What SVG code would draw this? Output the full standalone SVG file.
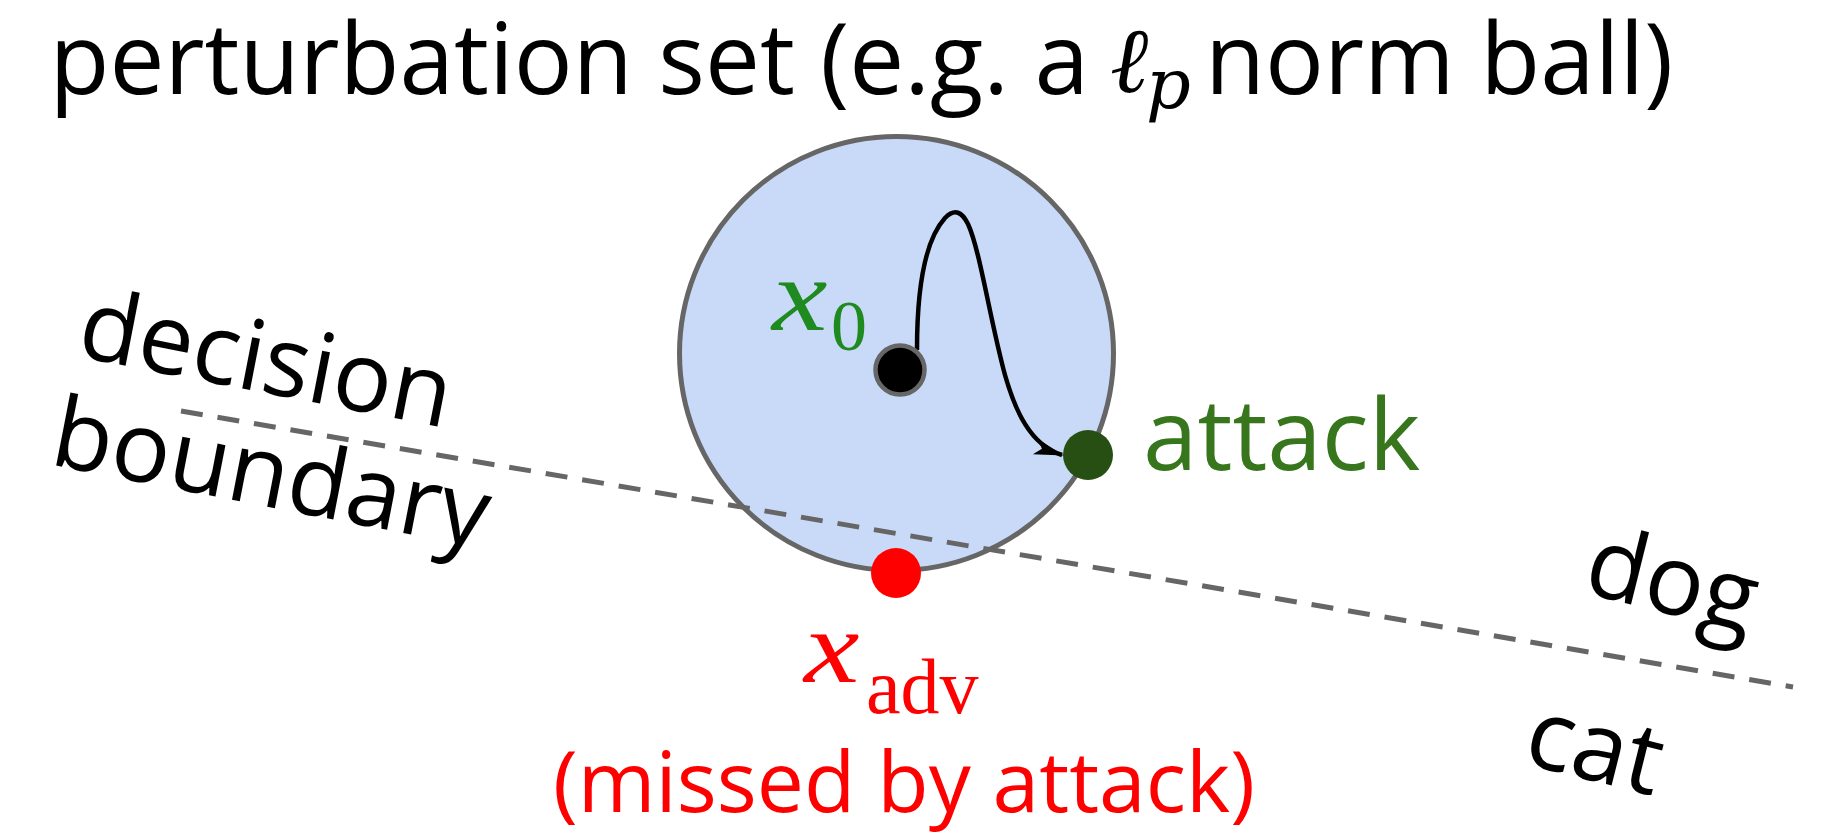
<svg xmlns="http://www.w3.org/2000/svg" width="1829" height="835" viewBox="0 0 1829 835">
  <style>
    .sans { font-family: "Open Sans", "Noto Sans", "DejaVu Sans", sans-serif; }
    .math { font-family: "Liberation Serif", "DejaVu Serif", serif; font-style: italic; }
    .pmath { font-family: "DejaVu Serif", "Liberation Serif", serif; font-style: italic; }
    .rm { font-family: "Liberation Serif", "DejaVu Serif", serif; }
    .lbl { font-size: 98px; fill: #000; }
  </style>
  <defs>
    <marker id="stealth" viewBox="0 0 30 20" refX="28" refY="10" markerWidth="30" markerHeight="20" markerUnits="userSpaceOnUse" orient="auto">
      <path d="M0,2 L30,10 L0,18 L7,10 Z" fill="#000"/>
    </marker>
  </defs>
  <rect width="1829" height="835" fill="#ffffff"/>

  <g id="title">
    <text class="sans" x="49.5" y="94" font-size="98" fill="#000">perturbation set (e.g. a</text>
    <text class="math" x="1110" y="92" font-size="92" fill="#000">ℓ</text>
    <text class="pmath" x="1146" y="108" font-size="70" fill="#000">p</text>
    <text class="sans" x="1205" y="94" font-size="98" fill="#000">norm ball)</text>
  </g>

  <g id="perturbation-ball">
    <circle cx="896.5" cy="353.5" r="217" fill="#c9daf8" stroke="#666666" stroke-width="5"/>
  </g>

  <g id="connectors">
    <line id="decision-boundary-line" x1="181" y1="411" x2="1793" y2="687" stroke="#666666" stroke-width="5" stroke-dasharray="22 15"/>
    <path id="attack-path" d="M917,350 C917,290 925,240 945,218 C955,208 962,212 968,224 C980,250 990,320 1005,375 C1015,410 1030,445 1062,455" fill="none" stroke="#000" stroke-width="4.5" marker-end="url(#stealth)"/>
  </g>

  <g id="x0">
    <circle cx="900" cy="370" r="24.5" fill="#000" stroke="#666666" stroke-width="4.5"/>
    <text class="math" transform="translate(772,330) scale(1.2,1)" font-size="104" fill="#1f8a1f">x</text>
    <text class="rm" x="831" y="350" font-size="72" fill="#1f8a1f">0</text>
  </g>

  <g id="attack">
    <circle cx="1088" cy="455" r="25" fill="#274e13"/>
    <text class="sans" x="1143" y="470" font-size="98" fill="#38761d">attack</text>
  </g>

  <g id="x-adv">
    <circle cx="896" cy="573" r="25" fill="#ff0000"/>
    <text class="math" transform="translate(804,682) scale(1.2,1)" font-size="104" fill="#ff0000">x</text>
    <text class="rm" x="866" y="713" font-size="78" fill="#ff0000">adv</text>
    <text class="sans" x="904" y="812" font-size="84" fill="#ff0000" text-anchor="middle">(missed by attack)</text>
  </g>

  <g id="decision-boundary-label">
    <text class="sans lbl" transform="translate(75,356) rotate(11)">decision</text>
    <text class="sans lbl" transform="translate(48,464) rotate(11)">boundary</text>
  </g>

  <g id="dog-label">
    <text class="sans lbl" transform="translate(1581,592) rotate(14)">dog</text>
  </g>
  <g id="cat-label">
    <text class="sans lbl" transform="translate(1521,763) rotate(14)">cat</text>
  </g>
</svg>
